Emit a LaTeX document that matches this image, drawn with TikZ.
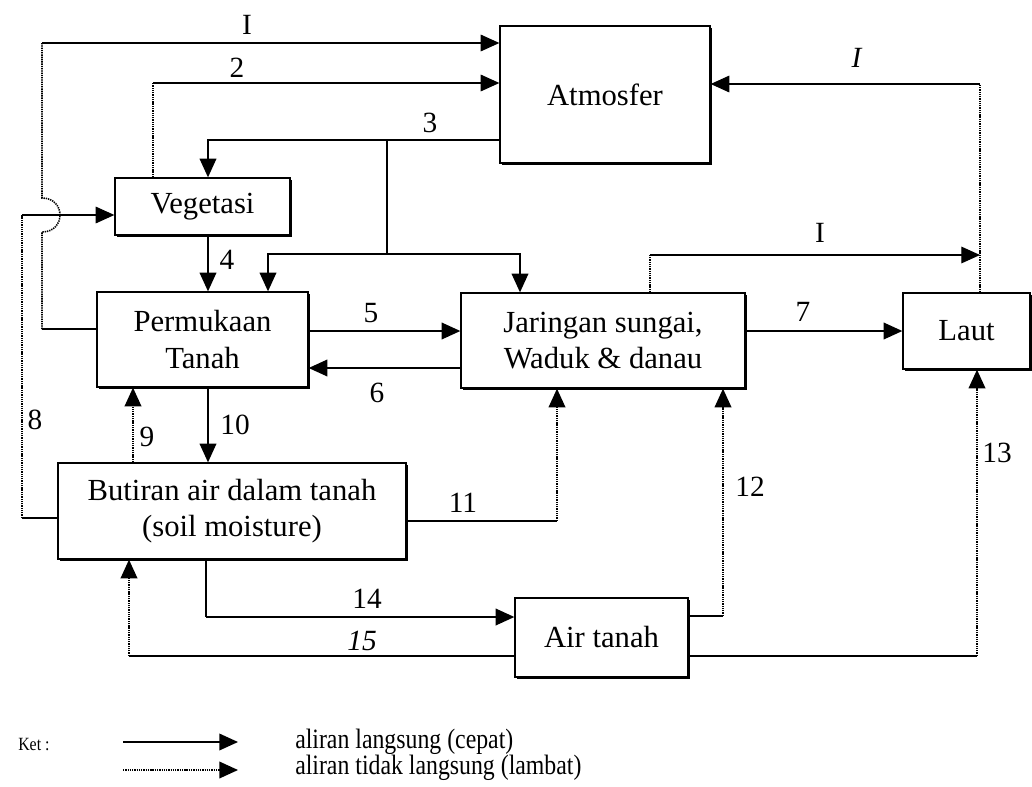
\documentclass[tikz,border=0pt]{standalone}
\usepackage{fontspec}
\setmainfont{Liberation Serif}
\newfontfamily\legendfont[FakeStretch=0.85]{Liberation Serif}
\usetikzlibrary{arrows.meta,shadows,calc}

\begin{document}
\begin{tikzpicture}[x=0.75pt,y=-0.75pt,
  box/.style={draw, fill=white, line width=1pt, inner sep=0pt, align=center,
    font=\fontsize{23}{27.5}\selectfont,
    drop shadow={shadow xshift=1.8pt, shadow yshift=-1.8pt, fill=black, opacity=1}},
  direct/.style={line width=1.1pt},
  slow/.style={line width=1.2pt, dash pattern=on 1pt off 0.7pt},
  thinline/.style={line width=0.8pt},
  arr/.style={-{Triangle[length=14pt,width=12.5pt]}},
  lab/.style={font=\fontsize{22}{24}\selectfont, inner sep=0pt},
]
\useasboundingbox (0,0) rectangle (1032,786);

% boxes
\node[box, minimum width=157.5pt, minimum height=102.75pt] (atm) at (605,94.5) {Atmosfer};
\node[box, minimum width=131.25pt, minimum height=42.75pt] (veg) at (202.5,206.5) {Vegetasi};
\node[box, minimum width=158.25pt, minimum height=71.25pt] (perm) at (202.5,339.5) {Permukaan\\Tanah};
\node[box, minimum width=213pt, minimum height=71.25pt] (jar) at (603,340.5) {Jaringan sungai,\\Waduk \& danau};
\node[box, minimum width=95.25pt, minimum height=57pt] (laut) at (966.5,331) {Laut};
\node[box, minimum width=261pt, minimum height=72pt] (but) at (232,511) {Butiran air dalam tanah\\(soil moisture)};
\node[box, minimum width=129.75pt, minimum height=59.25pt] (air) at (601.5,637.5) {Air tanah};

% route points
\coordinate (c1a) at (42,329);
\coordinate (c1b) at (42,43);
\coordinate (hopT) at (42,198);
\coordinate (hopB) at (42,232);
\coordinate (c2) at (153,83);
\coordinate (c3) at (208,140);
\coordinate (c3b) at (387,140);
\coordinate (c3c) at (387,254);
\coordinate (c3L) at (268,254);
\coordinate (c3R) at (520,254);
\coordinate (c8a) at (22,518);
\coordinate (c8b) at (22,215);
\coordinate (c11) at (557,521);
\coordinate (c12) at (723,616);
\coordinate (c13) at (977,656);
\coordinate (c14a) at (206,617);
\coordinate (c15) at (129,656);
\coordinate (cJ) at (650,255);
\coordinate (cL) at (980,255);
\coordinate (cLt) at (980,84);
\coordinate (y5) at (0,331);
\coordinate (y6) at (0,368);
\coordinate (x9) at (133,0);

% 1 : Permukaan -> Atmosfer
\draw[thinline] (perm.west |- c1a) -- (c1a);
\draw[slow] (c1a) -- (hopB) .. controls +(24,0) and +(24,0) .. (hopT) -- (c1b);
\draw[thinline, arr] (c1b) -- (atm.west |- c1b);
% 2 : Vegetasi -> Atmosfer
\draw[slow] (veg.north -| c2) -- (c2);
\draw[thinline, arr] (c2) -- (atm.west |- c2);
% 3 : Atmosfer -> Vegetasi, Permukaan, Jaringan
\draw[direct, arr] (atm.west |- c3) -- (c3) -- (veg.north -| c3);
\draw[direct] (c3b) -- (c3c);
\draw[direct, arr] (c3c) -- (c3L) -- (perm.north -| c3L);
\draw[direct, arr] (c3c) -- (c3R) -- (jar.north -| c3R);
% 4
\draw[direct, arr] (veg.south -| c3) -- (perm.north -| c3);
% 5, 6, 7
\draw[direct, arr] (perm.east |- y5) -- (jar.west |- y5);
\draw[direct, arr] (jar.west |- y6) -- (perm.east |- y6);
\draw[direct, arr] (jar.east |- y5) -- (laut.west |- y5);
% 1 : Jaringan -> (Laut line)
\draw[slow] (jar.north -| cJ) -- (cJ);
\draw[thinline, arr] (cJ) -- (cL);
% 1 : Laut -> Atmosfer
\draw[slow] (laut.north -| cL) -- (cLt);
\draw[thinline, arr] (cLt) -- (atm.east |- cLt);
% 10, 9
\draw[direct, arr] (perm.south -| c3) -- (but.north -| c3);
\draw[slow, arr] (but.north -| x9) -- (perm.south -| x9);
% 8
\draw[thinline] (but.west |- c8a) -- (c8a);
\draw[slow] (c8a) -- (c8b);
\draw[thinline, arr] (c8b) -- (veg.west |- c8b);
% 11
\draw[thinline] (but.east |- c11) -- (c11);
\draw[slow, arr] (c11) -- (jar.south -| c11);
% 14
\draw[direct] (but.south -| c14a) -- (c14a);
\draw[direct, arr] (c14a) -- (air.west |- c14a);
% 15
\draw[thinline] (air.west |- c15) -- (c15);
\draw[slow, arr] (c15) -- (but.south -| c15);
% 12
\draw[thinline] (air.east |- c12) -- (c12);
\draw[slow, arr] (c12) -- (jar.south -| c12);
% 13
\draw[thinline] (air.east |- c13) -- (c13);
\draw[slow, arr] (c13) -- (laut.south -| c13);

% labels
\node[lab] (l1) at (247,25) {I};
\node[lab] (l2) at (237,68) {2};
\node[lab] (l3) at (430,123) {3};
\node[lab] (l4) at (227,260) {4};
\node[lab] (l5) at (371,313) {5};
\node[lab] (l6) at (377,393) {6};
\node[lab] (l7) at (803,312) {7};
\node[lab] (l1b) at (820,233) {I};
\node[lab] (l1c) at (857,58) {\textit{I}};
\node[lab] (l8) at (35,420) {8};
\node[lab] (l9) at (147,437) {9};
\node[lab] (l10) at (235,425) {10};
\node[lab] (l11) at (463,503) {11};
\node[lab] (l12) at (750,487) {12};
\node[lab] (l13) at (997,453) {13};
\node[lab] (l14) at (367,599) {14};
\node[lab] (l15) at (362,641) {\textit{15}};

% legend
\node[font=\legendfont\fontsize{14}{16}\selectfont, anchor=west, inner sep=0pt] (ket) at (18,745) {Ket :};
\coordinate (lgA) at (123,742);
\coordinate (lgB) at (238,742);
\coordinate (lgC) at (123,770);
\coordinate (lgD) at (238,770);
\draw[direct, arr] (lgA) -- (lgB);
\draw[slow, arr] (lgC) -- (lgD);
\node[font=\legendfont\fontsize{21}{24}\selectfont, anchor=west, inner sep=0pt] (lg1) at (295,742) {aliran langsung (cepat)};
\node[font=\legendfont\fontsize{21}{24}\selectfont, anchor=west, inner sep=0pt] (lg2) at (295,768) {aliran tidak langsung (lambat)};
\end{tikzpicture}
\end{document}
